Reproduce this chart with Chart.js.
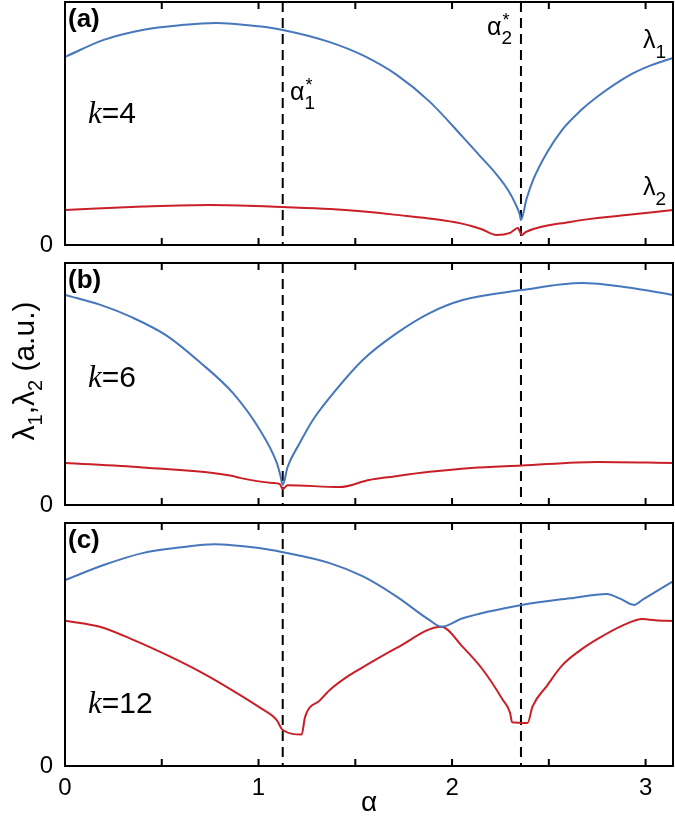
<!DOCTYPE html>
<html>
<head>
<meta charset="utf-8">
<script src="https://cdn.jsdelivr.net/npm/chart.js@4.4.1/dist/chart.umd.min.js"></script>
<style>
  html, body { margin: 0; padding: 0; background: #fff; }
  #fig { position: relative; width: 675px; height: 820px; }
  .panel { position: absolute; left: 0; width: 675px; }
</style>
</head>
<body>
<div id="fig">
  <div class="panel" style="top:0px; height:258px;"><canvas id="panel-a"></canvas></div>
  <div class="panel" style="top:250px; height:268px;"><canvas id="panel-b"></canvas></div>
  <div class="panel" style="top:510px; height:310px;"><canvas id="panel-c"></canvas></div>
</div>
<script>
'use strict';

const FONT = "'Liberation Sans', Arial, Helvetica, sans-serif";
const SERIF = "'Liberation Serif', 'Times New Roman', serif";
const AZUL = '#4677bd';
const ROJO = '#c91f27';

// angulos criticos (lineas discontinuas)
const alphaCrit = [1.125, 2.356];
// marcas del eje x
const xTicks = [0, 0.5, 1, 1.5, 2, 2.5, 3];

// (a) k=4
const alphaA1 = [0, 0.2, 0.4, 0.6, 0.78, 1.0, 1.125, 1.368, 1.54, 1.714, 1.884, 2.055, 2.14, 2.23, 2.29, 2.33, 2.35, 2.356, 2.385, 2.42, 2.49, 2.57, 2.66, 2.75, 2.92, 3.03, 3.1416];
const lambda1A = [0.774, 0.844, 0.885, 0.905, 0.914, 0.90, 0.885, 0.835, 0.78, 0.70, 0.59, 0.445, 0.37, 0.29, 0.225, 0.165, 0.125, 0.103, 0.19, 0.27, 0.38, 0.475, 0.55, 0.61, 0.70, 0.74, 0.77];
const alphaA2 = [0, 0.4, 0.75, 1.125, 1.37, 1.7, 2.04, 2.15, 2.23, 2.30, 2.34, 2.36, 2.38, 2.61, 2.9, 3.1416];
const lambda2A = [0.144, 0.158, 0.165, 0.156, 0.148, 0.125, 0.09, 0.066, 0.041, 0.05, 0.07, 0.041, 0.053, 0.095, 0.123, 0.144];

// (b) k=6
const alphaB1 = [0, 0.18, 0.35, 0.525, 0.697, 0.867, 1.007, 1.094, 1.112, 1.125, 1.15, 1.213, 1.28, 1.358, 1.54, 1.714, 1.884, 2.055, 2.36, 2.67, 2.9, 3.1416];
const lambda1B = [0.868, 0.828, 0.774, 0.70, 0.59, 0.463, 0.31, 0.175, 0.125, 0.083, 0.157, 0.256, 0.35, 0.434, 0.60, 0.71, 0.793, 0.847, 0.888, 0.917, 0.90, 0.868];
const alphaB2 = [0, 0.4, 0.867, 0.903, 1.07, 1.11, 1.125, 1.15, 1.42, 1.57, 1.7, 1.884, 2.1, 2.36, 2.75, 3.1416];
const lambda2B = [0.174, 0.155, 0.12, 0.112, 0.091, 0.086, 0.066, 0.082, 0.074, 0.103, 0.118, 0.137, 0.153, 0.163, 0.178, 0.174];

// (c) k=12
const alphaC1 = [0, 0.2, 0.4, 0.6, 0.77, 1.0, 1.125, 1.368, 1.54, 1.714, 1.884, 1.945, 2.055, 2.36, 2.61, 2.80, 2.865, 2.94, 2.985, 3.1416];
const lambda1C = [0.765, 0.827, 0.876, 0.90, 0.913, 0.897, 0.88, 0.835, 0.78, 0.697, 0.60, 0.573, 0.608, 0.663, 0.69, 0.708, 0.69, 0.663, 0.685, 0.76];
const alphaC2 = [0, 0.18, 0.353, 0.525, 0.697, 0.867, 1.007, 1.094, 1.125, 1.223, 1.24, 1.317, 1.368, 1.47, 1.54, 1.714, 1.945, 2.055, 2.16, 2.26, 2.30, 2.31, 2.39, 2.416, 2.49, 2.57, 2.66, 2.75, 2.88, 2.985, 3.05, 3.1416];
const lambda2C = [0.598, 0.573, 0.519, 0.457, 0.388, 0.31, 0.24, 0.189, 0.148, 0.13, 0.20, 0.27, 0.313, 0.374, 0.407, 0.486, 0.573, 0.49, 0.395, 0.275, 0.218, 0.18, 0.177, 0.245, 0.33, 0.415, 0.475, 0.522, 0.578, 0.605, 0.60, 0.597];

function puntos(xs, ys) {
    return xs.map((x, i) => ({ x: x, y: ys[i] }));
}

// texto con subindices / superindices
function anchoRich(ctx, parts) {
    let w = 0;
    parts.forEach(p => {
        ctx.font = `${p.style || ''} ${p.size}px ${p.family || FONT}`;
        if (!p.stay) w += ctx.measureText(p.t).width;
    });
    return w;
}

function drawRich(ctx, x, y, parts) {
    let cx = x;
    parts.forEach(p => {
        ctx.font = `${p.style || ''} ${p.size}px ${p.family || FONT}`;
        ctx.fillText(p.t, cx + (p.dx || 0), y + (p.dy || 0));
        if (!p.stay) cx += ctx.measureText(p.t).width;
    });
}

const marco = {
    id: 'marco',
    beforeDatasetsDraw(chart) {
        const { ctx, chartArea: a, scales: { x } } = chart;
        ctx.save();
        ctx.strokeStyle = '#000';
        ctx.lineWidth = 2;
        ctx.setLineDash([10, 6]);
        alphaCrit.forEach(v => {
            const px = x.getPixelForValue(v);
            ctx.beginPath();
            ctx.moveTo(px, a.top);
            ctx.lineTo(px, a.bottom);
            ctx.stroke();
        });
        ctx.restore();
    },
    afterDraw(chart, args, opts) {
        const { ctx, chartArea: a, scales: { x } } = chart;
        ctx.save();
        ctx.strokeStyle = '#000';
        ctx.lineWidth = 2;
        ctx.strokeRect(a.left, a.top, a.right - a.left, a.bottom - a.top);
        ctx.beginPath();
        xTicks.forEach(v => {
            const px = x.getPixelForValue(v);
            ctx.moveTo(px, a.bottom);
            ctx.lineTo(px, a.bottom - 7);
            ctx.moveTo(px, a.top);
            ctx.lineTo(px, a.top + 7);
        });
        ctx.stroke();

        ctx.fillStyle = '#000';
        ctx.textAlign = 'left';
        ctx.textBaseline = 'alphabetic';
        (opts.textos || []).forEach(e => drawRich(ctx, a.left + e.x, a.top + e.y, e.parts));

        if (opts.tituloY) {
            const t = opts.tituloY;
            ctx.translate(t.x, t.y);
            ctx.rotate(-Math.PI / 2);
            drawRich(ctx, -anchoRich(ctx, t.parts) / 2, 0, t.parts);
        }
        ctx.restore();
    }
};

const alphaStar = n => [
    { t: 'α', size: 25 },
    { t: '*', size: 18, dy: -9, dx: 1, stay: true },
    { t: n, size: 19, dy: 9 }
];
const lambdaSub = n => [
    { t: 'λ', size: 25 },
    { t: n, size: 19, dy: 10 }
];
const etiquetaK = k => [
    { t: 'k', size: 31, style: 'italic', family: SERIF },
    { t: '=' + k, size: 30 }
];
const panelTag = s => [{ t: s, size: 26, style: 'bold' }];

function crearPanel(id, l1, l2, opciones) {
    const ultimo = opciones.ultimo;
    const ctx = document.getElementById(id).getContext('2d');
    return new Chart(ctx, {
        type: 'line',
        data: {
            datasets: [
                { label: 'λ1', data: l1, borderColor: AZUL, borderWidth: 2, pointRadius: 0, cubicInterpolationMode: 'monotone' },
                { label: 'λ2', data: l2, borderColor: ROJO, borderWidth: 2, pointRadius: 0, cubicInterpolationMode: 'monotone' }
            ]
        },
        options: {
            responsive: true,
            maintainAspectRatio: false,
            animation: false,
            events: [],
            layout: { padding: opciones.padding },
            scales: {
                x: {
                    type: 'linear',
                    min: 0,
                    max: Math.PI,
                    display: ultimo,
                    afterBuildTicks: s => { s.ticks = xTicks.map(v => ({ value: v })); },
                    ticks: {
                        callback: v => Number.isInteger(v) ? String(v) : '',
                        font: { size: 24, family: FONT },
                        color: '#000',
                        padding: 8,
                        maxRotation: 0,
                        autoSkip: false
                    },
                    grid: { display: false, drawTicks: false },
                    border: { display: false },
                    title: {
                        display: true,
                        text: 'α',
                        font: { size: 28, family: FONT },
                        color: '#000',
                        padding: { top: 0, bottom: 0 }
                    },
                    afterFit: s => {
                        s.height = ultimo ? 54 : 0;
                        s.paddingLeft = 0;
                        s.paddingRight = 0;
                    }
                },
                y: {
                    type: 'linear',
                    min: 0,
                    max: 1,
                    afterBuildTicks: s => { s.ticks = [{ value: 0 }]; },
                    ticks: {
                        callback: () => '0',
                        font: { size: 24, family: FONT },
                        color: '#000',
                        padding: 12
                    },
                    grid: { display: false, drawTicks: false },
                    border: { display: false },
                    afterFit: s => {
                        s.width = 60;
                        s.paddingTop = 0;
                        s.paddingBottom = 0;
                    }
                }
            },
            plugins: {
                legend: { display: false },
                tooltip: { enabled: false },
                marco: { textos: opciones.textos, tituloY: opciones.tituloY }
            }
        },
        plugins: [marco]
    });
}

crearPanel('panel-a', puntos(alphaA1, lambda1A), puntos(alphaA2, lambda2A), {
    ultimo: false,
    padding: { left: 5, right: 2, top: 2, bottom: 13 },
    textos: [
        { x: 3, y: 25, parts: panelTag('(a)') },
        { x: 23, y: 121, parts: etiquetaK(4) },
        { x: 225, y: 98, parts: alphaStar('1') },
        { x: 422, y: 33, parts: alphaStar('2') },
        { x: 578, y: 46, parts: lambdaSub('1') },
        { x: 578, y: 193, parts: lambdaSub('2') }
    ]
});

crearPanel('panel-b', puntos(alphaB1, lambda1B), puntos(alphaB2, lambda2B), {
    ultimo: false,
    padding: { left: 5, right: 2, top: 13, bottom: 13 },
    textos: [
        { x: 3, y: 25, parts: panelTag('(b)') },
        { x: 23, y: 124, parts: etiquetaK(6) }
    ],
    tituloY: {
        x: 34,
        y: 121,
        parts: [
            { t: 'λ', size: 30 },
            { t: '1', size: 20, dy: 8 },
            { t: ',', size: 30 },
            { t: 'λ', size: 30 },
            { t: '2', size: 20, dy: 8 },
            { t: ' (a.u.)', size: 30 }
        ]
    }
});

crearPanel('panel-c', puntos(alphaC1, lambda1C), puntos(alphaC2, lambda2C), {
    ultimo: true,
    padding: { left: 5, right: 2, top: 13, bottom: 0 },
    textos: [
        { x: 3, y: 25, parts: panelTag('(c)') },
        { x: 23, y: 190, parts: etiquetaK(12) }
    ]
});
</script>
</body>
</html>
